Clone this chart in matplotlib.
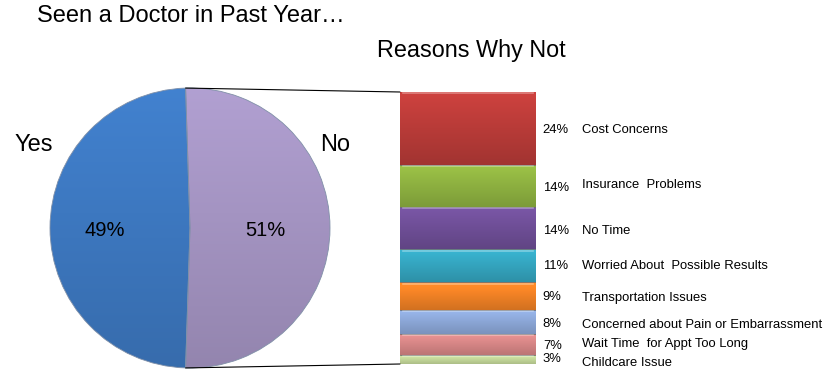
import matplotlib.pyplot as plt
from matplotlib.patches import ConnectionPatch
from matplotlib.colors import to_rgb
import numpy as np

plt.rcParams['font.family'] = ['Liberation Sans', 'DejaVu Sans']

# pie data
pie_labels = ['Yes', 'No']
pie_values = [49, 51]
pie_colors = ['#3D78C0', '#A494C2']

# reasons why not (bottom to top)
reasons = ['Childcare Issue', 'Wait Time  for Appt Too Long',
           'Concerned about Pain or Embarrassment', 'Transportation Issues',
           'Worried About  Possible Results', 'No Time',
           'Insurance  Problems', 'Cost Concerns']
reason_values = [3, 7, 8, 9, 11, 14, 14, 24]
reason_colors = ['#C4D89A', '#D58585', '#8BA6D6', '#EE8025',
                 '#34A4BE', '#6E4E96', '#8DB040', '#B83B38']
# small vertical nudges for the labels (in value units), as in the original
pct_nudge = [0.0, -0.7, -0.6, -0.3, 0.0, -0.9, -0.9, -0.6]
name_nudge = [-1.3, 0.0, -1.0, -0.7, 0.0, -1.0, 0.3, -0.6]


def shade(patch, ax, color, extent, top=1.12, bot=0.88):
    # vertical gradient clipped to the patch (mimics the Excel bevel look)
    base = np.array(to_rgb(color))
    t = np.linspace(1, 0, 64)[:, None]
    fac = bot + (top - bot) * t
    img = np.clip(base[None, :] * fac[:, :, None], 0, 1)
    im = ax.imshow(img, extent=extent, aspect='auto', zorder=patch.get_zorder(),
                   interpolation='bilinear')
    im.set_clip_path(patch)


W, H = 834, 382
fig = plt.figure(figsize=(W / 100, H / 100), dpi=100)

# pie axes
cx, cy, r = 190, 228, 140
ax1 = fig.add_axes([(cx - r) / W, (H - cy - r) / H, 2 * r / W, 2 * r / H])
no_share = pie_values[1] / sum(pie_values) * 360
wedges, _ = ax1.pie(pie_values[::-1], colors=pie_colors[::-1], startangle=-no_share / 2,
                    counterclock=True, radius=1,
                    wedgeprops=dict(edgecolor='#8090A8', linewidth=0.6))
for w, c in zip(wedges, pie_colors[::-1]):
    shade(w, ax1, c, (-1, 1, -1, 1), top=1.08, bot=0.9)
    w.set_facecolor('none')
    w.set_zorder(3)
ax1.set_xlim(-1, 1)
ax1.set_ylim(-1, 1)
ax1.set_aspect('auto')
ax1.axis('off')
ax1.text(-0.61, -0.02, f'{pie_values[0]}%', ha='center', va='center', fontsize=14.5, zorder=5)
ax1.text(0.54, -0.02, f'{pie_values[1]}%', ha='center', va='center', fontsize=14.5, zorder=5)
fig.text(34 / W, 1 - 145 / H, pie_labels[0], ha='center', va='center', fontsize=17)
fig.text(335 / W, 1 - 145 / H, pie_labels[1], ha='center', va='center', fontsize=17)

# bar axes
bx0, bx1, by0, by1 = 400, 536, 92, 364
ax2 = fig.add_axes([bx0 / W, (H - by1) / H, (bx1 - bx0) / W, (by1 - by0) / H])
bottom = 0
for v, c, name, pn, nn in zip(reason_values, reason_colors, reasons, pct_nudge, name_nudge):
    rect = ax2.bar(0, v, bottom=bottom, width=1, color='none',
                   edgecolor='#707070', linewidth=0.6, zorder=3)[0]
    shade(rect, ax2, c, (-0.5, 0.5, bottom, bottom + v))
    # light highlight along the top edge
    ax2.plot([-0.48, 0.48], [bottom + v - 0.45, bottom + v - 0.45],
             color='white', alpha=0.35, linewidth=1.2, zorder=4)
    mid = bottom + v / 2
    ax2.text(0.55, mid + pn, f'{v}%', ha='left', va='center', fontsize=9.4)
    ax2.text(0.84, mid + nn, name, ha='left', va='center', fontsize=9.4)
    bottom += v
ax2.set_xlim(-0.5, 0.5)
ax2.set_ylim(0, sum(reason_values))
ax2.axis('off')

# connector lines from the "No" slice edges to the bar
total = sum(reason_values)
a_top = np.deg2rad(no_share / 2)
a_bot = np.deg2rad(-no_share / 2)
for ang, yb in [(a_top, total), (a_bot, 0)]:
    con = ConnectionPatch(xyA=(np.cos(ang), np.sin(ang)), coordsA=ax1.transData,
                          xyB=(-0.5, yb), coordsB=ax2.transData,
                          color='black', linewidth=0.8)
    fig.add_artist(con)

fig.text(37 / W, 1 - 16 / H, 'Seen a Doctor in Past Year\u2026', ha='left', va='center', fontsize=17)
fig.text(471 / W, 1 - 50 / H, 'Reasons Why Not', ha='center', va='center', fontsize=16.8)

fig.savefig('out.png', dpi=100)
